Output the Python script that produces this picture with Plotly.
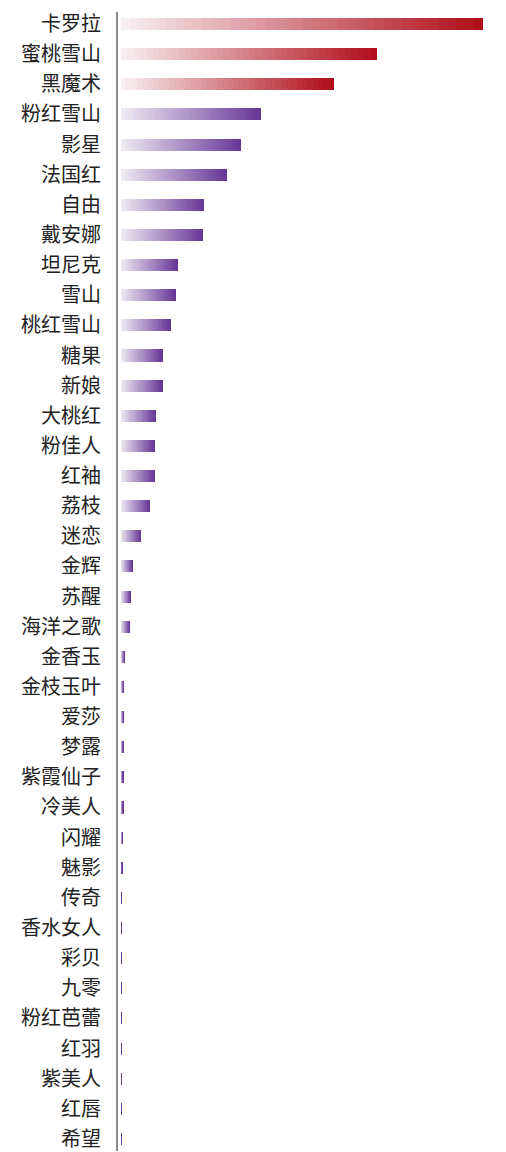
import plotly.graph_objects as go

# varieties, top to bottom
varieties = [
    '卡罗拉', '蜜桃雪山', '黑魔术', '粉红雪山', '影星', '法国红', '自由', '戴安娜',
    '坦尼克', '雪山', '桃红雪山', '糖果', '新娘', '大桃红', '粉佳人', '红袖',
    '荔枝', '迷恋', '金辉', '苏醒', '海洋之歌', '金香玉', '金枝玉叶', '爱莎',
    '梦露', '紫霞仙子', '冷美人', '闪耀', '魅影', '传奇', '香水女人', '彩贝',
    '九零', '粉红芭蕾', '红羽', '紫美人', '红唇', '希望',
]
# bar lengths (relative units)
values = [
    362, 256, 213, 140, 120, 106, 83, 82,
    57, 55, 50, 42, 42, 35, 34, 34,
    29, 20, 12, 10, 9, 4, 3, 3,
    2.5, 2.2, 2.2, 2, 1.2, 1, 1, 1,
    0.4, 0.3, 0.3, 0.2, 0.2, 0.2,
]
# the first three bars are red, the rest purple
red_count = 3

red_start, red_end = (247, 238, 241), (176, 14, 26)
purple_start, purple_end = (238, 234, 243), (104, 56, 152)


def mix(c0, c1, t):
    return 'rgb(%d,%d,%d)' % tuple(round(a + (b - a) * t) for a, b in zip(c0, c1))


# fake a left-to-right gradient by stacking thin slices of each bar
steps = 40
fig = go.Figure()
for i in range(steps):
    t = i / (steps - 1)
    colors = [
        mix(red_start, red_end, t) if k < red_count else mix(purple_start, purple_end, t)
        for k in range(len(varieties))
    ]
    fig.add_trace(go.Bar(
        y=varieties,
        x=[v / steps for v in values],
        orientation='h',
        width=0.4,
        marker=dict(color=colors, line=dict(width=0)),
        hoverinfo='skip',
        showlegend=False,
    ))

fig.update_layout(
    barmode='stack',
    width=498,
    height=1144,
    margin=dict(l=110, r=0, t=0, b=0),
    paper_bgcolor='white',
    plot_bgcolor='white',
    font=dict(family='Noto Sans CJK SC', size=20, color='#222222'),
    xaxis=dict(range=[-3, 385], visible=False, showgrid=False, zeroline=False),
    yaxis=dict(
        range=[37.4, -0.4],
        showgrid=False,
        zeroline=False,
        showline=True,
        linecolor='#8c8c8c',
        linewidth=2,
        ticks='',
        ticklabelstandoff=11,
    ),
)

fig.write_html('out.html')
